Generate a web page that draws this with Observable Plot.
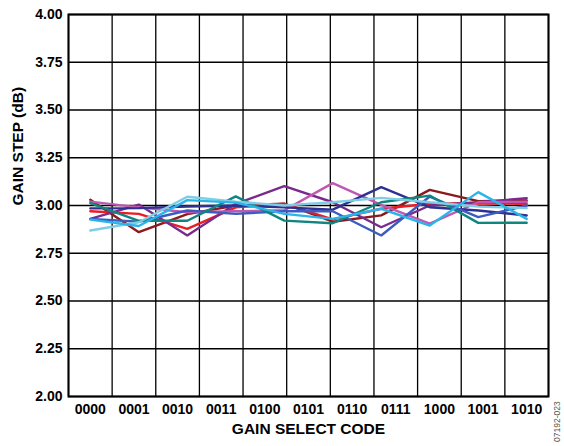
<!DOCTYPE html>
<html>
<head>
<meta charset="utf-8">
<script src="https://cdn.jsdelivr.net/npm/d3@7"></script>
<script src="https://cdn.jsdelivr.net/npm/@observablehq/plot@0.6"></script>
<style>
  html, body { margin: 0; padding: 0; background: #fff; }
  #chart { position: relative; width: 564px; height: 446px; }
  #note { position: absolute; left: 551px; top: 396px; width: 12px; height: 46px; }
</style>
</head>
<body>
<div id="chart"></div>
<script>
// Category labels (x axis)
const codes = ["0000","0001","0010","0011","0100","0101","0110","0111","1000","1001","1010"];
// Y tick values
const yTicks = [2.00, 2.25, 2.50, 2.75, 3.00, 3.25, 3.50, 3.75, 4.00];
const xTitle = "GAIN SELECT CODE";
const yTitle = "GAIN STEP (dB)";

// Gain step per part (10 steps spanning the code range)
const s1 = [3.03, 2.86, 2.955, 3.00, 3.01, 2.915, 2.948, 3.082, 3.023, 3.026]; // maroon
const s2 = [2.97, 2.956, 2.878, 2.99, 3.009, 2.927, 2.983, 3.009, 3.012, 3.009]; // red
const s3 = [2.93, 3.005, 2.843, 3.009, 3.101, 3.017, 2.886, 3.000, 3.017, 3.038]; // purple
const s4 = [3.02, 2.99, 2.965, 2.97, 2.975, 3.117, 3.003, 2.905, 3.017, 3.02];    // orchid
const s5 = [2.985, 2.986, 2.995, 3.00, 2.99, 2.978, 3.096, 2.991, 2.974, 2.948]; // navy
const s6 = [2.93, 2.915, 2.974, 2.956, 2.97, 2.97, 2.843, 3.047, 2.939, 3.00];   // blue
const s7 = [3.012, 2.92, 2.92, 3.048, 2.921, 2.907, 3.017, 3.052, 2.909, 2.91];  // teal
const s8 = [2.869, 2.912, 3.046, 3.02, 3.00, 3.017, 3.04, 3.017, 2.995, 2.986];  // light cyan
const s9 = [2.926, 2.893, 3.028, 3.015, 2.956, 2.93, 2.983, 2.895, 3.07, 2.93];  // sky blue

const seriesValues = [s1, s2, s3, s4, s5, s6, s7, s8, s9];
const seriesColors = ["#8B1A1E", "#EC1C24", "#7A2A8C", "#C058B2", "#2E3192", "#3E5BBF", "#0F867F", "#7FCDE5", "#29B5EA"];

const rows = [];
seriesValues.forEach((vals, si) => {
  vals.forEach((v, k) => rows.push({series: si, step: k * (codes.length - 1) / (vals.length - 1), value: v}));
});

const boundaries = d3.range(codes.length + 1).map(i => i - 0.5);

const chart = Plot.plot({
  width: 564,
  height: 446,
  marginLeft: 68,
  marginRight: 16,
  marginTop: 14,
  marginBottom: 50,
  style: {fontFamily: "'Liberation Sans', Arial, sans-serif", fontSize: "14px", fontWeight: "bold", color: "#000", background: "#fff", overflow: "visible"},
  x: {domain: [-0.5, codes.length - 0.5]},
  y: {domain: [2, 4]},
  color: {domain: d3.range(seriesColors.length), range: seriesColors},
  marks: [
    Plot.ruleX(boundaries, {stroke: "#000", strokeWidth: 1.3}),
    Plot.ruleY(yTicks, {stroke: "#000", strokeWidth: 1.3}),
    Plot.line(rows, {x: "step", y: "value", z: "series", stroke: "series", strokeWidth: 2.4, strokeLinejoin: "miter"}),
    Plot.frame({stroke: "#000", strokeWidth: 2}),
    Plot.axisX(d3.range(codes.length), {tickFormat: i => codes[i], tickSize: 0, tickPadding: 8, fontSize: 14, fontWeight: "bold", label: null}),
    Plot.axisY(yTicks, {tickFormat: d3.format(".2f"), tickSize: 0, tickPadding: 6, fontSize: 14, fontWeight: "bold", label: null}),
    Plot.text([xTitle], {frameAnchor: "bottom", dy: 37, fontSize: 15.5, fontWeight: "bold", fill: "#000"}),
    Plot.text([yTitle], {frameAnchor: "left", rotate: -90, dx: -50, fontSize: 15.5, fontWeight: "bold", fill: "#000"})
  ]
});
const holder = document.getElementById("chart");
holder.appendChild(chart);
const note = document.createElement("div");
note.id = "note";
note.innerHTML = '<svg width="12" height="46"><text transform="translate(9,46) rotate(-90)" font-family="Liberation Sans, Arial, sans-serif" font-size="8.5" fill="#555">07192-023</text></svg>';
holder.appendChild(note);
</script>
</body>
</html>
